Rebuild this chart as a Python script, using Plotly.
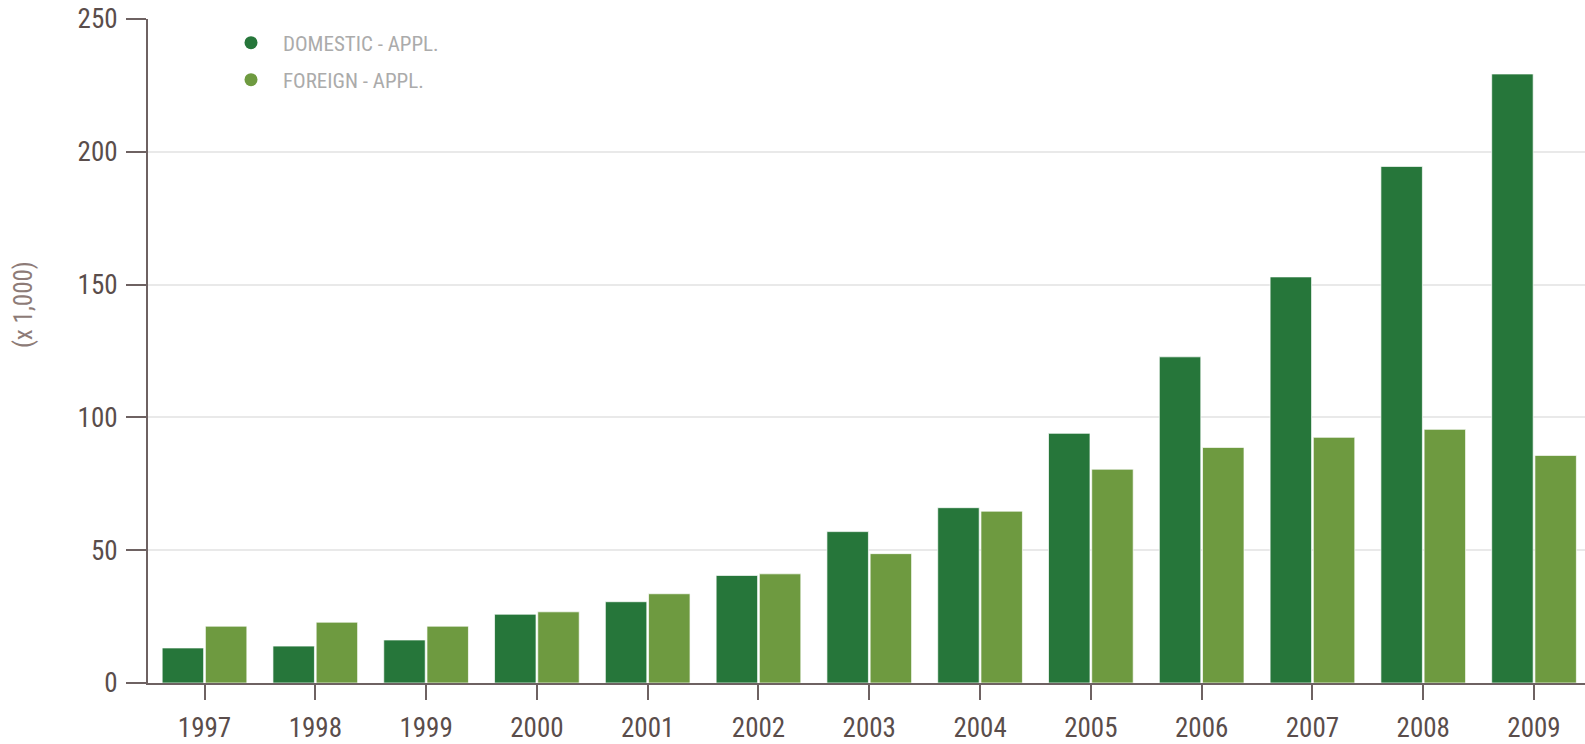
import plotly.graph_objects as go

years = ["1997", "1998", "1999", "2000", "2001", "2002", "2003",
         "2004", "2005", "2006", "2007", "2008", "2009"]
domestic = [13.2, 13.9, 16.2, 25.9, 30.6, 40.5, 57.0, 66.0, 94.0, 122.8, 152.9, 194.5, 229.3]
foreign = [21.4, 22.9, 21.4, 26.8, 33.6, 41.1, 48.7, 64.7, 80.5, 88.7, 92.5, 95.5, 85.7]
series_names = ["DOMESTIC - APPL.", "FOREIGN - APPL."]
y_ticks = [0, 50, 100, 150, 200, 250]
grid_ticks = [50, 100, 150, 200]

DARK = "#26763a"
LIGHT = "#6e9a40"
AXIS = "#6e6262"
TICKTXT = "#5a4d4b"
FONT = "Liberation Sans Narrow, Arial Narrow, Roboto Condensed, Roboto, sans-serif"

fig = go.Figure()
fig.add_trace(go.Bar(x=years, y=domestic, name=series_names[0], marker_color=DARK,
                     marker_line=dict(color="rgba(255,255,255,0.7)", width=1),
                     showlegend=False))
fig.add_trace(go.Bar(x=years, y=foreign, name=series_names[1], marker_color=LIGHT,
                     marker_line=dict(color="rgba(255,255,255,0.7)", width=1),
                     showlegend=False))
# legend entries with circle symbols
fig.add_trace(go.Scatter(x=[None], y=[None], mode="markers", name=series_names[0],
                         marker=dict(color=DARK, size=13, symbol="circle"), legend="legend"))
fig.add_trace(go.Scatter(x=[None], y=[None], mode="markers", name=series_names[1],
                         marker=dict(color=LIGHT, size=13, symbol="circle"), legend="legend2"))

W, H = 1585, 744
L, R, T, B = 148, 0, 19, 61
pw = W - L - R
ph = H - T - B

def lx(px):
    return (px - L) / pw

def ly(py):
    return (H - B - py) / ph

legend_font = dict(family=FONT, size=21, color="#ababab")
fig.update_layout(
    width=W, height=H,
    margin=dict(l=L, r=R, t=T, b=B),
    paper_bgcolor="white", plot_bgcolor="white",
    barmode="group", bargap=0.22, bargroupgap=0.04,
    font=dict(family=FONT, size=27, color=TICKTXT),
    legend=dict(x=lx(219), y=ly(43), xanchor="left", yanchor="middle",
                font=legend_font, bgcolor="rgba(0,0,0,0)", itemwidth=54),
    legend2=dict(x=lx(219), y=ly(80), xanchor="left", yanchor="middle",
                 font=legend_font, bgcolor="rgba(0,0,0,0)", itemwidth=54),
    xaxis=dict(type="category", range=[-0.51, 12.46], showline=True, linecolor=AXIS,
               linewidth=2, ticks="outside", ticklen=15, tickwidth=2, tickcolor=AXIS,
               showgrid=False, zeroline=False, ticklabelstandoff=5,
               tickfont=dict(family=FONT, size=27, color=TICKTXT)),
    yaxis=dict(range=[0, 250], tickvals=y_ticks, showline=True, linecolor=AXIS,
               linewidth=2, ticks="outside", ticklen=20, tickwidth=2, tickcolor=AXIS,
               showgrid=False, zeroline=False, ticklabelstandoff=3,
               tickfont=dict(family=FONT, size=27, color=TICKTXT)),
    yaxis2=dict(range=[0, 250], overlaying="y", tickvals=grid_ticks, showgrid=True,
                gridcolor="#e9e9e9", gridwidth=1.5, showticklabels=False, ticks="",
                showline=False, zeroline=False, layer="below traces"),
    annotations=[dict(text="(x 1,000)", textangle=-90, xref="paper", yref="paper",
                      x=lx(23), y=ly(305), xanchor="center", yanchor="middle",
                      showarrow=False, font=dict(family=FONT, size=25, color="#8d7b77"))],
)
# dummy trace to activate the grid axis
fig.add_trace(go.Scatter(x=[None], y=[None], yaxis="y2", showlegend=False, hoverinfo="skip"))

fig.write_html("out.html")
